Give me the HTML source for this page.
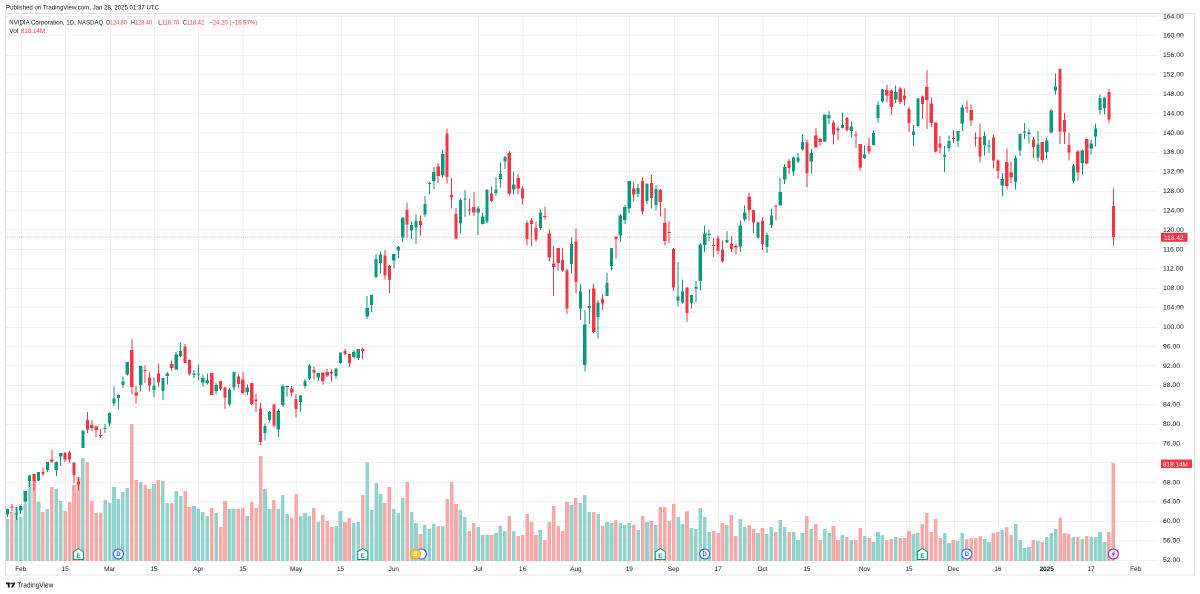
<!DOCTYPE html>
<html><head><meta charset="utf-8">
<style>
html,body{margin:0;padding:0;background:#fff;width:1200px;height:594px;overflow:hidden}
svg{display:block;font-family:"Liberation Sans",Arial,sans-serif}
.ax{font-size:6.8px;fill:#131722}
.tx{font-size:6.4px;fill:#131722;text-anchor:middle}
</style></head><body>
<svg id="c" width="1200" height="594" viewBox="0 0 1200 594" xmlns="http://www.w3.org/2000/svg">
<rect width="1200" height="594" fill="#fff"/>
<g id="grid" stroke="#f0f2f5" stroke-width="1" shape-rendering="crispEdges"></g>
<g id="vol" shape-rendering="crispEdges"></g>
<line x1="5" y1="237.1" x2="1160" y2="237.1" stroke="#f23645" stroke-opacity="0.35" stroke-width="1" stroke-dasharray="1 1"/>
<g id="cdl" shape-rendering="crispEdges"></g>

<!-- price axis labels -->
<g class="ax">
<text x="1163" y="18.3">164.00</text>
<text x="1163" y="37.7">160.00</text>
<text x="1163" y="57.1">156.00</text>
<text x="1163" y="76.5">152.00</text>
<text x="1163" y="96.0">148.00</text>
<text x="1163" y="115.4">144.00</text>
<text x="1163" y="134.8">140.00</text>
<text x="1163" y="154.2">136.00</text>
<text x="1163" y="173.6">132.00</text>
<text x="1163" y="193.0">128.00</text>
<text x="1163" y="212.5">124.00</text>
<text x="1163" y="231.9">120.00</text>
<text x="1163" y="251.3">116.00</text>
<text x="1163" y="270.7">112.00</text>
<text x="1163" y="290.1">108.00</text>
<text x="1163" y="309.5">104.00</text>
<text x="1163" y="329.0">100.00</text>
<text x="1163" y="348.4">96.00</text>
<text x="1163" y="367.8">92.00</text>
<text x="1163" y="387.2">88.00</text>
<text x="1163" y="406.6">84.00</text>
<text x="1163" y="426.0">80.00</text>
<text x="1163" y="445.5">76.00</text>
<text x="1163" y="484.3">68.00</text>
<text x="1163" y="503.7">64.00</text>
<text x="1163" y="523.1">60.00</text>
<text x="1163" y="542.5">56.00</text>
<text x="1163" y="562.0">52.00</text>
</g>

<!-- last price labels -->
<rect x="1161" y="232.8" width="26.5" height="9" fill="#f23645"/>
<text x="1164" y="240" font-size="6.6" fill="#fff">118.42</text>
<rect x="1161" y="459.5" width="31" height="8.5" fill="#f23645"/>
<text x="1163" y="466.3" font-size="6.4" fill="#fff">818.14M</text>

<!-- time axis labels -->
<g class="tx">
<text x="20.7" y="571">Feb</text>
<text x="65.1" y="571">15</text>
<text x="109.6" y="571">Mar</text>
<text x="154.0" y="571">15</text>
<text x="198.4" y="571">Apr</text>
<text x="242.8" y="571">15</text>
<text x="296.1" y="571">May</text>
<text x="340.5" y="571">15</text>
<text x="393.8" y="571">Jun</text>
<text x="478.2" y="571">Jul</text>
<text x="522.6" y="571">16</text>
<text x="575.9" y="571">Aug</text>
<text x="629.2" y="571">19</text>
<text x="673.6" y="571">Sep</text>
<text x="718.1" y="571">17</text>
<text x="762.5" y="571">Oct</text>
<text x="806.9" y="571">15</text>
<text x="864.6" y="571">Nov</text>
<text x="909.0" y="571">15</text>
<text x="953.5" y="571">Dec</text>
<text x="997.9" y="571">16</text>
<text x="1046.7" y="571" font-weight="bold">2025</text>
<text x="1091.1" y="571">17</text>
<text x="1135.6" y="571">Feb</text>
</g>

<!-- top header cover + frame -->
<rect x="0" y="0" width="1200" height="13" fill="#fff"/>
<rect x="5.5" y="13.5" width="1189" height="561.5" fill="none" stroke="#e0e3eb" stroke-width="1"/>
<text x="6" y="9.3" font-size="6.6" fill="#131722" textLength="153" lengthAdjust="spacingAndGlyphs">Published on TradingView.com, Jan 28, 2025 01:37 UTC</text>

<!-- legend -->
<text x="9.3" y="24.3" font-size="6.4" fill="#131722" textLength="94" lengthAdjust="spacingAndGlyphs">NVIDIA Corporation, 1D, NASDAQ</text>
<text x="106" y="24.3" font-size="6.4" textLength="20.7" lengthAdjust="spacingAndGlyphs"><tspan fill="#131722">O</tspan><tspan fill="#f23645">124.80</tspan></text>
<text x="131" y="24.3" font-size="6.4" textLength="21" lengthAdjust="spacingAndGlyphs"><tspan fill="#131722">H</tspan><tspan fill="#f23645">128.40</tspan></text>
<text x="158.3" y="24.3" font-size="6.4" textLength="21" lengthAdjust="spacingAndGlyphs"><tspan fill="#131722">L</tspan><tspan fill="#f23645">116.70</tspan></text>
<text x="182.7" y="24.3" font-size="6.4" textLength="21.6" lengthAdjust="spacingAndGlyphs"><tspan fill="#131722">C</tspan><tspan fill="#f23645">118.42</tspan></text>
<text x="209.3" y="24.3" font-size="6.4" fill="#f23645" textLength="48" lengthAdjust="spacingAndGlyphs">−24.20 (−16.97%)</text>
<text x="9.3" y="33" font-size="6.4" fill="#131722" textLength="9" lengthAdjust="spacingAndGlyphs">Vol</text>
<text x="21" y="33" font-size="6.4" fill="#f23645" textLength="24" lengthAdjust="spacingAndGlyphs">818.14M</text>

<!-- event markers -->
<g id="mk" font-size="6" font-weight="bold" text-anchor="middle"></g>

<!-- TradingView logo -->
<g fill="#131722">
<rect x="6" y="582.5" width="4.5" height="1.8"/>
<rect x="7.8" y="582.5" width="1.8" height="5"/>
<circle cx="12" cy="583.4" r="0.9"/>
<polygon points="13.5,582.5 15.5,582.5 13,587.5 11,587.5"/>
</g>
<text x="17.3" y="587.3" font-size="7" fill="#131722" textLength="36" lengthAdjust="spacingAndGlyphs">TradingView</text>
</svg>
<script>
(function(){
var NS="http://www.w3.org/2000/svg";
function el(t,a,p){var e=document.createElementNS(NS,t);for(var k in a)e.setAttribute(k,a[k]);p.appendChild(e);return e;}
var D=[
[61.27,62.47,60.81,62.42],[62.90,63.49,62.03,62.77],[61.45,62.86,60.18,61.53],[62.10,63.16,61.37,63.03],[63.97,66.16,63.56,66.16],
[68.20,69.37,66.90,69.31],[69.60,69.70,66.20,68.21],[68.30,70.06,68.21,70.01],[70.00,70.98,69.23,69.62],[70.50,72.13,70.00,72.13],
[72.60,74.60,71.85,72.23],[70.40,72.16,69.24,72.13],[73.20,73.92,71.29,73.92],[74.00,74.19,72.09,72.63],[74.10,74.39,72.00,72.61],
[71.95,71.95,67.72,69.41],[68.06,68.95,66.25,67.48],[75.02,78.57,75.02,78.55],[80.75,82.39,78.02,78.81],[79.72,80.60,78.50,79.09],
[79.37,79.61,77.25,78.69],[77.65,78.92,77.09,77.55],[79.00,79.95,78.12,79.12],[80.00,82.30,79.44,82.23],[84.17,87.69,83.68,85.22],
[85.27,86.04,83.02,85.94],[88.00,89.74,87.33,88.70],[90.16,92.70,89.87,92.67],[95.14,97.40,86.00,87.53],[86.40,87.76,84.20,85.76],
[88.00,91.95,86.59,91.90],[91.09,91.96,88.34,90.88],[89.53,90.64,86.60,87.89],[86.90,89.49,85.47,87.84],[90.38,92.38,87.57,88.45],
[86.70,89.45,84.87,89.40],[89.77,90.61,88.09,90.36],[92.30,92.98,90.86,91.43],[91.17,94.79,91.04,94.26],[93.94,96.76,93.70,95.00],
[95.85,96.36,92.48,92.51],[93.10,93.25,89.92,90.25],[90.00,91.00,89.27,90.36],[90.30,92.22,89.04,90.36],[88.44,90.10,87.62,89.45],
[88.41,90.33,88.10,88.93],[90.39,90.48,85.89,85.90],[86.75,88.34,86.03,88.00],[88.74,88.75,86.81,87.10],[87.44,87.64,83.04,85.34],
[83.92,87.39,83.62,87.02],[87.44,90.76,86.78,90.62],[89.70,90.11,87.35,88.15],[89.09,90.63,85.99,86.35],[86.48,88.08,85.93,87.42],
[88.34,88.40,83.80,84.04],[84.97,86.10,82.42,84.62],[83.10,84.30,75.61,76.20],[78.09,80.06,76.48,79.52],[80.78,82.63,80.26,82.41],
[83.97,84.00,79.20,79.62],[78.80,82.92,77.24,82.62],[83.80,88.04,83.38,87.75],[87.58,87.84,85.63,87.74],[87.20,87.77,85.56,86.40],
[85.07,86.08,81.25,83.04],[84.49,85.87,82.40,85.82],[87.74,89.20,87.22,88.79],[89.35,92.26,89.01,92.00],[91.09,91.78,89.05,90.55],
[89.49,90.45,88.82,90.41],[90.54,90.54,88.09,88.75],[90.65,91.21,89.62,89.88],[90.60,91.15,88.72,90.35],[89.84,91.34,89.30,91.32],
[92.50,94.65,92.27,94.63],[94.94,95.34,94.17,94.36],[94.32,94.39,91.65,92.48],[93.75,95.21,93.44,94.78],[93.56,95.39,93.07,95.39],
[95.41,95.71,93.36,94.95],[102.03,106.32,101.53,103.80],[104.45,106.48,103.00,106.47],[110.24,114.94,109.90,113.90],[113.05,115.49,110.90,114.83],
[114.65,115.82,109.66,110.50],[112.52,112.72,106.94,109.63],[113.62,115.00,112.00,115.00],[115.72,116.60,114.04,116.44],[118.37,122.45,117.47,122.44],
[124.05,125.59,118.32,120.99],[119.77,121.69,118.02,120.89],[120.37,123.10,117.01,121.79],[121.77,122.87,118.74,120.91],[123.06,126.88,122.57,125.20],
[129.39,129.80,127.16,129.61],[129.96,132.84,128.32,131.88],[132.99,133.73,129.58,130.98],[131.14,136.33,130.69,135.58],[139.80,140.76,129.52,130.78],
[127.12,130.63,124.30,126.57],[123.24,124.46,118.04,118.11],[121.20,126.50,119.32,126.09],[126.13,128.12,122.60,126.40],[124.10,126.41,122.92,123.99],
[124.58,127.71,122.75,123.54],[123.47,124.84,118.83,124.30],[121.13,123.41,121.03,122.67],[121.66,128.28,121.36,128.28],[127.38,128.85,125.68,125.83],
[127.49,130.77,127.04,128.20],[130.35,133.82,128.65,131.38],[134.03,135.10,132.42,134.91],[135.75,136.15,127.05,127.40],[128.26,131.92,127.22,129.24],
[130.56,131.39,127.18,128.44],[128.44,128.96,125.15,126.36],[121.35,121.85,116.72,117.99],[121.85,122.40,116.56,121.09],[120.35,121.60,117.37,117.93],
[120.35,124.07,119.86,123.54],[122.78,124.69,122.09,122.59],[119.17,119.95,113.44,114.25],[113.04,116.63,106.30,112.28],[116.19,116.20,111.58,113.06],
[113.69,116.28,111.30,111.59],[111.52,111.99,102.54,103.73],[112.90,118.34,110.88,117.02],[117.53,120.16,106.81,109.21],[103.76,108.72,101.37,107.27],
[92.06,103.41,90.69,100.45],[103.84,107.71,100.55,104.25],[107.81,108.80,98.69,98.91],[102.00,105.50,97.52,104.97],[105.64,106.60,103.43,104.75],
[106.32,111.07,106.26,109.02],[112.44,116.23,111.58,116.14],[118.53,118.60,114.07,118.08],[118.76,123.24,117.47,122.86],[121.94,125.00,121.18,124.58],
[124.28,130.00,123.42,130.00],[128.40,129.88,125.89,127.25],[127.32,129.35,126.66,128.50],[130.02,130.75,123.10,123.74],[125.86,129.60,125.22,129.37],
[129.57,131.26,124.37,126.46],[125.05,129.20,123.88,128.30],[128.12,128.33,122.64,125.61],[121.36,124.43,116.71,117.59],[119.53,121.75,117.22,119.37],
[116.01,116.21,107.29,108.00],[105.41,113.27,104.12,106.21],[104.99,109.65,104.76,107.21],[108.04,108.15,100.95,102.83],[104.88,106.55,103.69,106.47],
[107.81,109.40,104.95,108.10],[109.39,117.19,107.42,116.91],[116.84,120.79,115.38,119.14],[119.08,119.96,117.60,119.10],[116.79,118.18,114.36,116.78],
[118.17,118.80,114.83,115.59],[115.89,117.70,113.22,113.37],[117.35,119.66,117.25,117.87],[117.06,118.62,115.39,116.00],[116.55,116.99,114.86,116.26],
[116.52,121.80,115.38,120.87],[122.02,124.94,121.61,123.51],[126.80,127.67,121.80,124.04],[123.97,124.03,119.26,121.40],[118.31,121.50,118.15,121.44],
[121.77,122.44,115.79,117.00],[116.44,119.38,115.14,118.85],[120.92,124.36,120.34,122.85],[124.94,125.04,121.83,124.92],[124.99,130.64,124.95,127.72],
[130.26,133.48,129.42,132.89],[134.11,134.52,131.38,132.65],[131.91,135.00,131.00,134.81],[134.01,135.78,133.66,134.80],[136.47,139.60,136.30,138.07],
[137.87,138.57,128.74,131.60],[133.98,136.62,131.58,135.72],[139.34,140.89,136.87,136.93],[138.67,138.90,137.28,138.00],[138.13,143.71,138.00,143.71],
[142.91,144.42,141.78,143.59],[142.03,142.43,137.46,139.56],[140.82,141.35,138.46,140.41],[140.93,144.13,140.80,141.54],[143.00,143.14,140.05,140.52],
[140.29,142.26,138.90,141.25],[139.54,140.33,136.81,139.34],[137.60,137.61,132.11,132.76],[134.70,137.31,134.57,135.40],[137.21,138.96,135.57,136.05],
[137.45,140.37,137.33,139.91],[142.96,146.49,141.96,145.61],[146.39,148.93,146.17,148.88],[148.77,149.77,146.26,147.63],[148.68,148.85,143.57,145.26],
[146.78,149.65,146.01,148.29],[149.07,149.33,145.90,146.27],[147.64,149.00,145.55,146.76],[144.87,145.24,140.08,141.98],[139.50,141.55,137.15,140.15],
[141.32,147.13,140.99,147.01],[147.41,147.56,142.73,145.89],[149.35,152.89,140.70,146.67],[145.93,147.16,141.10,141.95],[141.99,142.05,135.82,136.02],
[137.70,139.30,135.67,136.92],[135.01,137.22,131.80,135.34],[136.78,139.35,136.05,138.25],[138.83,140.45,137.82,138.63],[138.26,140.08,137.04,140.26],
[141.80,145.79,140.30,145.14],[145.11,146.54,143.95,145.06],[144.60,145.70,141.31,142.44],[138.97,139.95,137.13,138.81],[139.01,141.82,133.79,135.07],
[137.36,140.17,135.21,139.31],[137.08,138.44,135.80,137.34],[138.94,139.60,132.54,134.25],[134.18,134.40,130.42,132.00],[129.09,131.59,126.86,130.39],
[133.86,136.70,128.28,128.91],[131.76,134.03,129.55,130.68],[129.81,135.28,128.22,134.70],[136.28,139.79,135.12,139.67],[140.00,141.90,138.65,140.22],
[139.70,140.85,137.73,139.93],[138.55,139.02,134.71,137.01],[134.83,140.27,134.02,137.49],[138.03,138.07,133.83,134.29],[136.00,138.88,134.63,138.31],
[140.01,144.90,139.73,144.47],[148.59,152.16,147.82,149.43],[153.03,153.13,137.56,140.14],[142.58,143.95,137.56,140.11],[137.45,139.92,134.22,135.91],
[129.99,133.49,129.51,133.23],[136.05,136.38,130.05,131.76],[133.65,136.45,131.29,136.24],[138.64,138.75,133.49,133.57],[136.69,138.50,135.46,137.71],
[139.16,141.83,137.09,140.83],[144.66,147.79,143.67,147.07],[145.05,147.23,143.72,147.22],[148.37,148.97,141.88,142.62],[124.80,128.40,116.70,118.42]
];
var V=[42,49,54,44,57,79,87,59,49,52,74,72,60,50,59,76,84,103,99,60,48,48,61,58,74,62,69,73,137,81,
79,76,72,77,81,80,58,58,70,65,70,54,55,52,49,45,53,48,34,60,52,52,52,53,45,59,53,105,72,52,
61,52,66,47,43,67,45,48,45,53,39,46,40,34,35,50,39,43,38,39,66,99,51,78,67,58,74,52,48,63,
79,49,38,27,36,32,37,35,35,62,79,57,51,44,30,38,34,26,26,26,28,35,30,45,30,25,26,47,39,26,
31,21,39,55,35,30,59,56,63,58,66,49,49,47,35,39,38,41,38,36,38,36,31,45,39,40,36,54,54,40,
57,44,37,50,33,32,53,44,29,30,28,38,36,46,25,42,34,36,32,28,33,27,34,29,41,34,29,29,21,28,
45,32,37,21,32,28,35,21,26,24,21,21,33,25,23,19,29,26,21,22,24,23,23,30,27,28,37,48,29,42,
23,28,18,21,20,28,22,23,23,25,22,19,28,29,31,34,26,37,21,13,14,21,20,19,24,28,32,43,28,27,
24,24,22,25,24,24,29,19,29,98];
var X0=7.4,DX=4.4416;
function yP(p){return 15.9+(164-p)*4.854;}
var g=document.getElementById("grid");
for(var k=0;k<=28;k++){var y=Math.round(15.9+k*19.416)+0.5;el("line",{x1:6,x2:1158,y1:y,y2:y},g);}
var vx=[20.7,65.1,109.6,154.0,198.4,242.8,296.1,340.5,393.8,478.2,522.6,575.9,629.2,673.6,718.1,762.5,806.9,864.6,909.0,953.5,997.9,1046.7,1091.1,1135.6];
vx.forEach(function(x){var xx=Math.round(x)+0.5;el("line",{x1:xx,x2:xx,y1:14,y2:561},g);});
var vg=document.getElementById("vol"),cg=document.getElementById("cdl");
for(var i=0;i<D.length;i++){
 var d=D[i],x=X0+i*DX,up=d[3]>=d[0];
 var h=V[i]||20;
 el("rect",{x:(x-1.8).toFixed(2),y:(561-h).toFixed(2),width:3.6,height:h,fill:up?"#92d2cc":"#f7a9a7"},vg);
 var col=up?"#089981":"#f23645";
 el("rect",{x:(x-0.5).toFixed(2),y:yP(d[1]).toFixed(2),width:1,height:Math.max(1,yP(d[2])-yP(d[1])).toFixed(2),fill:col},cg);
 var t=yP(Math.max(d[0],d[3])),b=yP(Math.min(d[0],d[3]));
 el("rect",{x:(x-1.6).toFixed(2),y:t.toFixed(2),width:3.2,height:Math.max(1,b-t).toFixed(2),fill:col},cg);
}
var mk=document.getElementById("mk");
function ix(i){return X0+i*DX;}
[16,80,147,206].forEach(function(i){var x=ix(i);
 el("path",{d:"M"+x+",548.5 L"+(x+5)+",551.8 L"+(x+5)+",559.5 L"+(x-5)+",559.5 L"+(x-5)+",551.8 Z",fill:"#fff",stroke:"#089981","stroke-width":1},mk);
 var t=el("text",{x:x,y:557.8,fill:"#089981"},mk);t.textContent="E";});
[25,157,216].forEach(function(i){var x=ix(i);
 el("circle",{cx:x,cy:554,r:5,fill:"#fff",stroke:"#2962ff","stroke-width":1},mk);
 var t=el("text",{x:x,y:556.2,fill:"#2962ff"},mk);t.textContent="D";});
(function(){var x=ix(93);
 el("circle",{cx:x+1,cy:554,r:5,fill:"#fff",stroke:"#2962ff","stroke-width":1},mk);
 var xs=ix(92)-0.5;
 el("circle",{cx:xs,cy:554,r:5,fill:"#f9c74f",stroke:"#f0a30a","stroke-width":1},mk);
 var t=el("text",{x:xs,y:556.2,fill:"#fff"},mk);t.textContent="S";})();
(function(){var x=ix(249);
 el("circle",{cx:x,cy:554,r:5,fill:"#f6ecf8",stroke:"#9c27b0","stroke-width":1},mk);
 el("path",{d:"M"+(x+1.2)+",550.5 L"+(x-1.8)+",554.5 L"+(x-0.1)+",554.5 L"+(x-1.2)+",557.5 L"+(x+1.8)+",553.4 L"+(x+0.1)+",553.4 Z",fill:"#9c27b0"},mk);})();
})();
</script>
</body></html>
